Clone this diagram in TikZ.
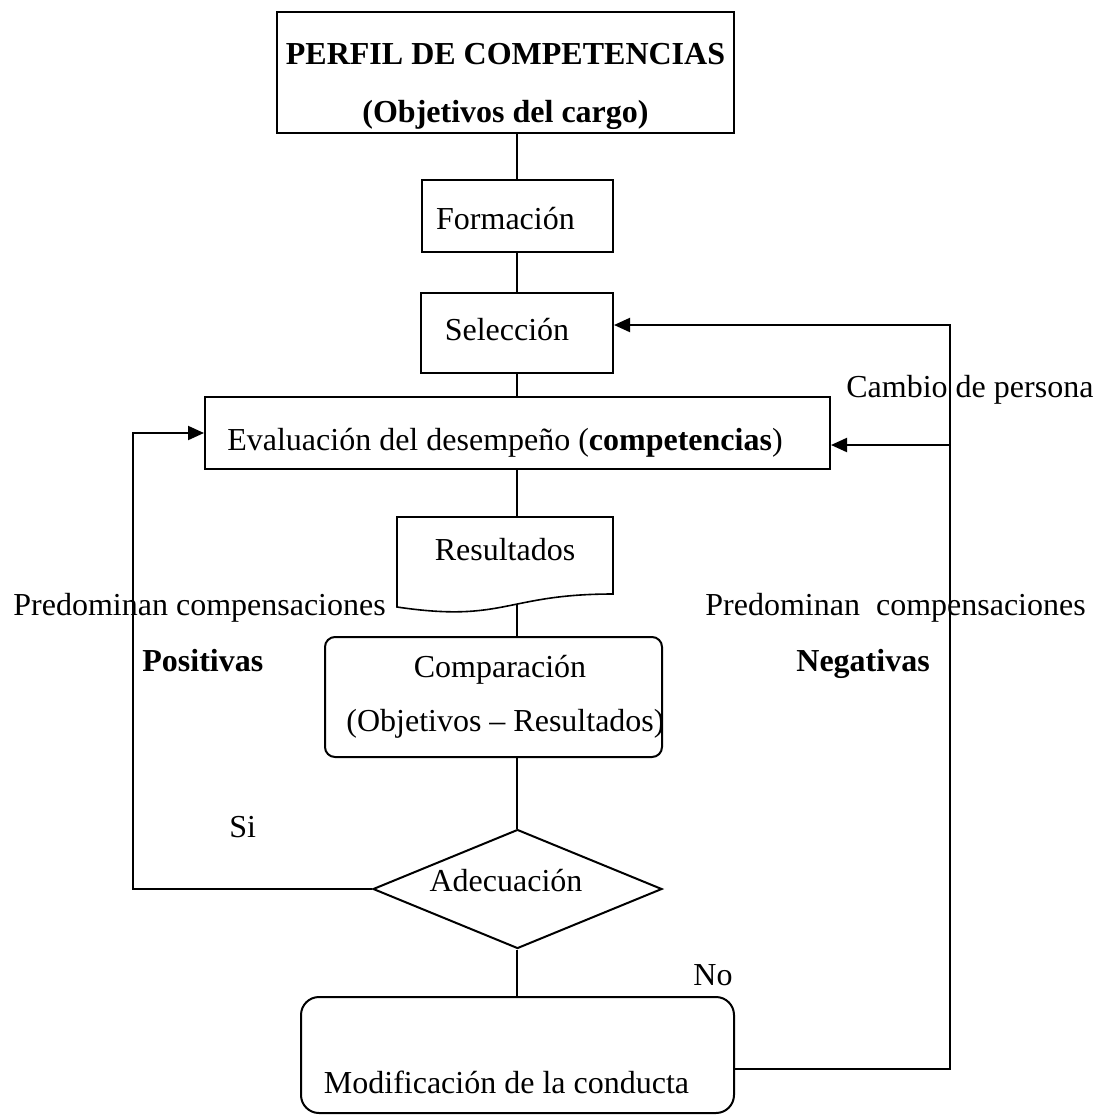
\documentclass[tikz,border=0pt]{standalone}
\usepackage{fontspec}
\setmainfont{Liberation Serif}
\usepackage{tikz}
\usetikzlibrary{arrows.meta,shapes,calc,positioning}
\newcommand{\letra}{\fontsize{16pt}{29pt}\selectfont}
\newcommand{\desplaza}[2]{\hspace*{#1}#2\hspace*{-#1}}
\tikzstyle{caja}    =[rectangle, draw, line width=1pt,
                      inner sep=5pt]
\tikzstyle{cajaRedonda}=[caja, rounded corners=5pt]
\tikzstyle{rombo}   =[diamond, draw, line width=1pt,
                      aspect=2.4, inner sep=1pt]
\tikzstyle{linea}   =[line width=0.7pt]
\tikzstyle{flecha}  =[->, >={Triangle[length=8pt,width=7pt]},
                      line width=1pt]
\tikzstyle{etiqueta}=[inner sep=0pt, anchor=base west]
\begin{document}
\begin{tikzpicture}[x=0.5pt,y=-0.5pt,font=\letra]
    \useasboundingbox (0,0) rectangle (1097,1115);

    \draw (505.5,72.5) node (perfil) [caja,inner xsep=3pt,inner ysep=1pt,minimum width=228.5pt,minimum height=60.5pt,align=center,font=\letra\bfseries] {\rule{0pt}{25pt}PERFIL DE COMPETENCIAS\\(Objetivos del cargo)};
    \draw (517.5,216) node (formacion) [caja,minimum width=95.5pt,minimum height=36pt,text height=16.5pt,text depth=3.5pt] {\desplaza{-6pt}{Formación}};
    \draw (517,333) node (seleccion) [caja,minimum width=96pt,minimum height=40pt,text height=10.5pt,text depth=3.5pt] {\desplaza{-5pt}{Selección}};
    \draw (517.5,433) node (evaluacion) [caja,inner ysep=3pt,minimum width=312.5pt,minimum height=36pt,text height=21.2pt,text depth=3.5pt] {\desplaza{-6.25pt}{Evaluación del desempeño (\textbf{competencias})}};
    \draw (505,555.5) node (resultados) [inner sep=0pt,outer sep=0pt,minimum width=108pt,minimum height=38.5pt,text height=8.7pt,text depth=3.5pt] {Resultados};
    \draw (493.5,697) node (comparacion) [cajaRedonda,inner xsep=2pt,minimum width=168.5pt,minimum height=60pt,align=center,font=\fontsize{16pt}{27pt}\selectfont] {\desplaza{3.25pt}{Comparación}\\\desplaza{6pt}{(Objetivos – Resultados)}};
    \draw (517.5,889) node (adecuacion) [rombo,minimum width=144.5pt,minimum height=59.5pt,text height=6.2pt,text depth=3.5pt] {\desplaza{-5.75pt}{Adecuación}};
    \draw (517.5,1055) node (modificacion) [caja,rounded corners=9pt,inner ysep=3pt,minimum width=216.5pt,minimum height=58pt,text height=41.5pt,text depth=3.5pt] {\desplaza{-5.5pt}{Modificación de la conducta}};

    % documento
    \draw [line width=0.8pt] (resultados.north west) -- (resultados.north east) -- (resultados.south east)
        .. controls (resultados.south) and ($(resultados.south)+(0,29)$) .. ($(resultados.south west)+(0,13)$) -- cycle;

    \coordinate (eje) at (517,0);
    \coordinate (izq) at (133,0);
    \coordinate (der) at (950,1069);

    \foreach \i/\j in {perfil/formacion,formacion/seleccion,seleccion/evaluacion,
    evaluacion/resultados,comparacion/adecuacion,adecuacion/modificacion}
        \draw [linea] (\i.south -| eje) -- (\j.north -| eje);
    \draw [linea] ($(resultados.south -| eje)+(0,10)$) -- (comparacion.north -| eje);

    \draw [flecha] (adecuacion.west) -- (adecuacion.west -| izq) |- (evaluacion.west);
    \draw [flecha] (modificacion.east |- der) -- (der) |- ($(seleccion.east)+(0,-8)$);
    \draw [flecha] ($(evaluacion.east -| der)+(0,12)$) -- ($(evaluacion.east)+(0,12)$);

    \draw (846,397) node (cambio) [etiqueta] {Cambio de persona};
    \draw (13,615) node (predIzq) [etiqueta] {Predominan compensaciones};
    \draw (142,671.5) node (positivas) [etiqueta,font=\letra\bfseries] {Positivas};
    \draw (705,615) node (predDer) [etiqueta] {Predominan\ \ compensaciones};
    \draw (796,671) node (negativas) [etiqueta,font=\letra\bfseries] {Negativas};
    \draw (229,837) node (si) [etiqueta] {Si};
    \draw (693,985) node (no) [etiqueta] {No};

\end{tikzpicture}
\end{document}
